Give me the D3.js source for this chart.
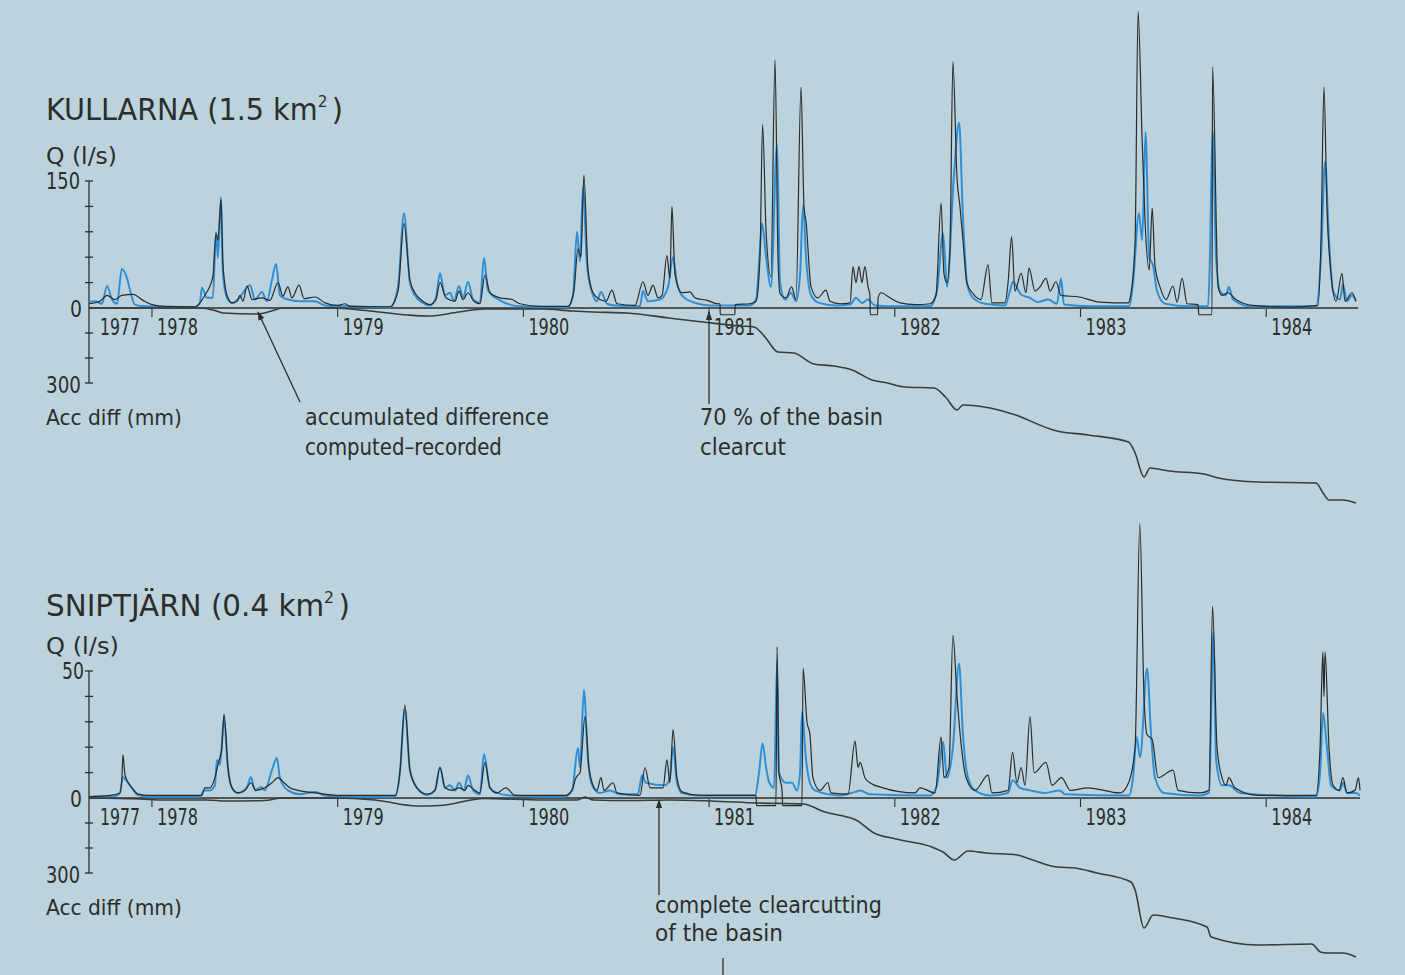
<!DOCTYPE html>
<html>
<head>
<meta charset="utf-8">
<script src="https://cdn.jsdelivr.net/npm/d3@7"></script>
<style>
  html, body { margin: 0; padding: 0; background: #bcd3dd; }
  svg { display: block; }
  text { font-family: "DejaVu Sans Condensed", "DejaVu Sans", sans-serif; fill: #2c2e2b; }
</style>
</head>
<body>
<svg id="chart" width="1405" height="975"></svg>
<script>
// Year labels along the time axis (1977 marks the partial first season)
const yearTicks = [1978, 1979, 1980, 1981, 1982, 1983, 1984];
const firstYearLabel = 1977;
const timeDomain = [1977.661, 1984.505];

// Q axis ticks (l/s) and accumulated-difference ticks (mm)
const kullarnaQTicks = [0, 30, 60, 90, 120, 150];
const sniptjarnQTicks = [0, 10, 20, 30, 40, 50];
const accDiffTicks = [0, 100, 200, 300];

// KULLARNA: computed runoff [decimal year, l/s]
const kullarnaComputed = [
  [1977.661,5],[1977.720,8],[1977.758,15],[1977.801,10],[1977.838,15],[1977.898,16],[1977.952,9],
  [1978.000,4],[1978.070,2],[1978.232,1.5],[1978.285,15],[1978.328,37],[1978.345,88],[1978.355,80],
  [1978.372,128],[1978.382,53],[1978.404,15],[1978.431,6],[1978.458,8],[1978.474,15],[1978.490,8],
  [1978.512,26],[1978.539,10],[1978.592,12],[1978.635,9],[1978.679,30],[1978.705,14],[1978.732,25],
  [1978.754,12],[1978.792,27],[1978.819,11],[1978.878,13],[1978.932,6],[1979.002,3],[1979.039,5],
  [1979.066,2],[1979.282,1.5],[1979.325,20],[1979.357,100],[1979.389,33],[1979.416,18],[1979.459,8],
  [1979.497,4],[1979.529,10],[1979.551,30],[1979.583,12],[1979.632,8],[1979.653,20],[1979.675,10],
  [1979.702,18],[1979.734,8],[1979.766,5],[1979.793,39],[1979.820,18],[1979.874,12],[1979.939,10],
  [1979.982,5],[1980.089,2],[1980.240,2],[1980.272,20],[1980.294,70],[1980.310,60],[1980.326,157],
  [1980.348,45],[1980.375,18],[1980.412,10],[1980.445,8],[1980.477,21],[1980.504,5],[1980.601,3],
  [1980.644,31],[1980.671,15],[1980.698,27],[1980.725,12],[1980.747,15],[1980.773,62],[1980.789,35],
  [1980.800,120],[1980.816,40],[1980.854,18],[1980.897,19],[1980.924,12],[1980.989,9],[1981.048,5],
  [1981.059,5],[1981.060,-8],[1981.139,-8],[1981.140,4],[1981.220,5],[1981.253,8],[1981.274,60],
  [1981.288,217],[1981.307,90],[1981.333,37],[1981.355,293],[1981.371,60],[1981.382,17],[1981.414,12],
  [1981.444,25],[1981.468,10],[1981.495,261],[1981.511,120],[1981.522,102],[1981.549,25],[1981.586,12],
  [1981.629,21],[1981.651,8],[1981.705,5],[1981.759,6],[1981.775,49],[1981.791,30],[1981.807,49],
  [1981.823,30],[1981.839,49],[1981.856,25],[1981.866,15],[1981.868,-8],[1981.907,-8],[1981.910,12],
  [1981.926,18],[1981.974,12],[1982.028,6],[1982.109,4],[1982.190,5],[1982.222,15],[1982.249,124],
  [1982.265,40],[1982.281,30],[1982.297,70],[1982.313,291],[1982.335,153],[1982.351,120],[1982.367,80],
  [1982.389,29],[1982.421,17],[1982.464,10],[1982.502,51],[1982.523,6],[1982.593,6],[1982.610,30],
  [1982.629,84],[1982.647,20],[1982.680,41],[1982.706,18],[1982.723,47],[1982.755,20],[1982.782,25],
  [1982.814,35],[1982.836,20],[1982.868,31],[1982.895,15],[1982.992,13],[1983.105,7],[1983.256,6],
  [1983.272,17],[1983.294,80],[1983.310,350],[1983.332,198],[1983.348,100],[1983.370,45],[1983.386,118],
  [1983.401,50],[1983.428,25],[1983.461,10],[1983.498,26],[1983.520,7],[1983.547,35],[1983.574,5],
  [1983.633,4],[1983.637,-8],[1983.708,-8],[1983.711,285],[1983.741,25],[1983.762,15],[1983.794,18],
  [1983.837,10],[1983.929,3],[1984.128,1],[1984.279,3],[1984.295,80],[1984.311,261],[1984.327,120],
  [1984.349,40],[1984.376,8],[1984.408,41],[1984.424,8],[1984.462,18],[1984.483,8]
];

// KULLARNA: recorded runoff [decimal year, l/s]
const kullarnaRecorded = [
  [1977.661,7],[1977.693,8],[1977.731,5],[1977.758,26],[1977.785,10],[1977.812,5],[1977.838,46],
  [1977.866,35],[1977.882,21],[1977.908,4],[1977.962,2],[1978.232,1],[1978.258,6],[1978.269,24],
  [1978.296,12],[1978.328,12],[1978.345,90],[1978.355,59],[1978.372,131],[1978.382,41],[1978.404,12],
  [1978.431,6],[1978.463,10],[1978.490,18],[1978.528,27],[1978.555,10],[1978.592,19],[1978.619,8],
  [1978.646,33],[1978.668,52],[1978.689,15],[1978.732,10],[1978.797,8],[1978.878,8],[1978.932,3],
  [1979.039,2],[1979.282,1],[1979.325,25],[1979.357,112],[1979.389,30],[1979.416,15],[1979.459,6],
  [1979.497,3],[1979.529,12],[1979.551,41],[1979.578,15],[1979.605,18],[1979.626,8],[1979.653,26],
  [1979.675,12],[1979.702,31],[1979.729,10],[1979.766,6],[1979.788,59],[1979.809,21],[1979.874,9],
  [1979.928,4],[1979.982,2],[1980.240,1],[1980.267,15],[1980.289,90],[1980.305,55],[1980.321,143],
  [1980.343,50],[1980.375,15],[1980.396,8],[1980.418,19],[1980.450,5],[1980.493,3],[1980.628,2],
  [1980.644,20],[1980.671,8],[1980.736,10],[1980.779,25],[1980.806,60],[1980.827,30],[1980.854,15],
  [1980.924,6],[1981.005,3],[1981.220,3],[1981.253,10],[1981.274,70],[1981.285,100],[1981.307,60],
  [1981.333,25],[1981.366,193],[1981.382,30],[1981.409,10],[1981.441,18],[1981.468,8],[1981.490,40],
  [1981.506,122],[1981.522,60],[1981.549,15],[1981.592,6],[1981.678,3],[1981.759,4],[1981.791,12],
  [1981.823,6],[1981.856,10],[1981.893,3],[1982.028,2],[1982.190,2],[1982.227,20],[1982.260,88],
  [1982.281,25],[1982.319,159],[1982.346,219],[1982.367,108],[1982.389,29],[1982.421,12],[1982.486,5],
  [1982.593,3],[1982.620,20],[1982.636,31],[1982.680,16],[1982.728,12],[1982.771,7],[1982.825,10],
  [1982.873,5],[1982.895,35],[1982.911,4],[1983.051,2],[1983.261,2],[1983.283,30],[1983.315,112],
  [1983.332,80],[1983.350,208],[1983.370,60],[1983.391,50],[1983.412,20],[1983.456,5],[1983.590,2],
  [1983.687,2],[1983.697,60],[1983.711,210],[1983.730,60],[1983.751,20],[1983.783,15],[1983.799,25],
  [1983.821,10],[1983.913,2],[1984.268,2],[1984.295,60],[1984.317,173],[1984.338,80],[1984.360,20],
  [1984.397,10],[1984.413,28],[1984.435,8],[1984.462,15],[1984.483,8]
];

// KULLARNA: accumulated difference computed-recorded [decimal year, mm]
const kullarnaAccDiff = [
  [1977.661,0],[1978.258,0],[1978.339,10],[1978.382,20],[1978.565,24],[1978.644,12],[1978.700,0],
  [1978.969,0],[1979.174,12],[1979.379,28],[1979.492,32],[1979.653,16],[1979.788,4],[1980.106,4],
  [1980.262,12],[1980.375,16],[1980.558,20],[1980.784,40],[1980.967,56],[1981.166,72],[1981.242,76],
  [1981.301,116],[1981.371,176],[1981.457,180],[1981.565,224],[1981.673,232],[1981.770,248],
  [1981.877,288],[1981.961,300],[1982.055,316],[1982.211,320],[1982.273,356],[1982.335,408],
  [1982.367,388],[1982.513,400],[1982.634,424],[1982.873,492],[1983.040,508],[1983.258,536],
  [1983.294,580],[1983.342,676],[1983.374,640],[1983.477,652],[1983.665,664],[1983.741,680],
  [1983.956,696],[1984.268,700],[1984.306,740],[1984.338,768],[1984.413,768],[1984.483,780]
];

// SNIPTJÄRN: computed runoff [decimal year, l/s]
const sniptjarnComputed = [
  [1977.661,0.5],[1977.774,1],[1977.828,2],[1977.838,8],[1977.844,17],[1977.855,9],[1977.892,4],
  [1977.925,1.5],[1977.989,1],[1978.232,1],[1978.269,1],[1978.285,4],[1978.312,4],[1978.339,8],
  [1978.355,13],[1978.366,16],[1978.377,20],[1978.388,33],[1978.409,12],[1978.431,4],[1978.463,2],
  [1978.501,3],[1978.533,6],[1978.560,3],[1978.608,4],[1978.646,6],[1978.679,8],[1978.711,6],
  [1978.743,4],[1978.786,3],[1978.878,2],[1979.012,1],[1979.309,1],[1979.335,10],[1979.362,36.6],
  [1979.389,11],[1979.427,4],[1979.481,1.5],[1979.524,3],[1979.551,12],[1979.578,4],[1979.616,3],
  [1979.653,4],[1979.686,3],[1979.702,5],[1979.739,3],[1979.766,2],[1979.793,14],[1979.820,4],
  [1979.858,2],[1979.906,4],[1979.955,1],[1980.224,1],[1980.262,3],[1980.283,8],[1980.305,10],
  [1980.332,32],[1980.353,12],[1980.370,6],[1980.396,3],[1980.418,8],[1980.434,3],[1980.483,6],
  [1980.504,2],[1980.628,1],[1980.655,12],[1980.682,4],[1980.752,4],[1980.773,15],[1980.789,6],
  [1980.806,27],[1980.827,8],[1980.854,2.4],[1980.951,1],[1981.253,1],[1981.255,-3],[1981.360,-3],
  [1981.366,59.5],[1981.376,10],[1981.393,3],[1981.396,-3],[1981.500,-3],[1981.506,51],[1981.527,30],
  [1981.543,25],[1981.559,8],[1981.597,3],[1981.640,6],[1981.656,2],[1981.748,1.5],[1981.786,22.4],
  [1981.802,12],[1981.813,14],[1981.839,8],[1981.866,6],[1981.936,4],[1982.109,2],[1982.136,4],
  [1982.217,2],[1982.249,24],[1982.265,8],[1982.292,12],[1982.313,64],[1982.335,40],[1982.356,22],
  [1982.384,8],[1982.432,3],[1982.502,9],[1982.523,2],[1982.610,3],[1982.634,18],[1982.658,6],
  [1982.680,12],[1982.701,5],[1982.728,32],[1982.750,10],[1982.814,14],[1982.847,5],[1982.898,8],
  [1982.945,3],[1983.040,4],[1983.213,2],[1983.259,6],[1983.294,20],[1983.319,108],[1983.342,40],
  [1983.358,25],[1983.386,23],[1983.418,8],[1983.498,11],[1983.525,3],[1983.644,2],[1983.692,3],
  [1983.711,75.6],[1983.735,20],[1983.762,8],[1983.783,5],[1983.799,8],[1983.831,4],[1983.956,1],
  [1984.268,1],[1984.290,20],[1984.305,57.5],[1984.311,40],[1984.317,57.5],[1984.338,20],[1984.360,5],
  [1984.392,3],[1984.413,8],[1984.435,2],[1984.478,3],[1984.497,8],[1984.505,3]
];

// SNIPTJÄRN: recorded runoff [decimal year, l/s]
const sniptjarnRecorded = [
  [1977.661,0.5],[1977.801,0.7],[1977.828,2],[1977.844,8.3],[1977.860,7],[1977.892,4],[1977.925,1.2],
  [1977.989,0.5],[1978.258,0.5],[1978.280,3],[1978.312,3],[1978.339,5],[1978.350,15],[1978.366,13],
  [1978.388,31.5],[1978.409,12],[1978.431,4],[1978.463,2],[1978.512,4.3],[1978.533,8.3],[1978.555,3],
  [1978.587,4.3],[1978.608,3],[1978.646,11],[1978.673,15.7],[1978.689,8],[1978.732,3],[1978.797,1.5],
  [1978.878,2.4],[1978.932,1],[1979.012,0.5],[1979.309,0.5],[1979.335,10],[1979.362,35],[1979.389,11],
  [1979.427,4],[1979.481,1.2],[1979.524,3],[1979.551,12.2],[1979.578,4],[1979.605,5],[1979.632,3],
  [1979.653,6],[1979.680,3],[1979.702,9],[1979.729,3],[1979.766,1.5],[1979.788,17.3],[1979.820,4],
  [1979.858,2],[1979.928,1],[1980.224,0.5],[1980.262,3],[1980.294,19.7],[1980.305,12],[1980.326,42.5],
  [1980.348,15],[1980.370,5],[1980.412,2],[1980.466,3],[1980.520,1.5],[1980.617,1.5],[1980.639,9],
  [1980.660,6],[1980.763,5],[1980.789,8],[1980.806,20],[1980.827,6],[1980.854,2],[1980.951,1],
  [1981.247,1],[1981.269,10],[1981.288,21.6],[1981.307,12],[1981.323,6.3],[1981.350,4],[1981.366,54],
  [1981.376,10],[1981.414,6],[1981.447,6],[1981.473,3],[1981.490,10],[1981.500,34],[1981.522,15],
  [1981.543,6],[1981.570,3],[1981.705,1],[1981.786,2.4],[1981.813,3],[1981.866,1.5],[1982.190,1],
  [1982.227,5],[1982.260,22],[1982.281,8],[1982.313,20],[1982.346,53],[1982.367,25],[1982.394,8],
  [1982.432,3],[1982.513,1],[1982.610,2],[1982.634,7],[1982.674,4],[1982.728,3],[1982.809,2],
  [1982.889,3],[1982.916,1.5],[1983.261,1],[1983.283,8],[1983.302,24],[1983.321,16],[1983.358,51],
  [1983.380,25],[1983.401,8],[1983.450,2],[1983.644,1],[1983.692,2],[1983.716,65],[1983.730,15],
  [1983.762,5],[1983.799,5],[1983.859,2],[1984.268,0.5],[1984.290,10],[1984.306,33.5],[1984.327,20],
  [1984.349,5],[1984.397,3],[1984.413,6],[1984.435,2],[1984.483,2],[1984.505,1]
];

// SNIPTJÄRN: accumulated difference computed-recorded [decimal year, mm]
const sniptjarnAccDiff = [
  [1977.661,0],[1977.935,4],[1978.065,8],[1978.291,8],[1978.404,12],[1978.608,10],[1978.700,0],
  [1978.985,0],[1979.201,8],[1979.427,32],[1979.551,30],[1979.788,2],[1980.106,8],[1980.289,8],
  [1980.332,-4],[1980.375,8],[1980.574,10],[1980.784,8],[1981.010,12],[1981.263,20],[1981.506,24],
  [1981.624,56],[1981.743,76],[1981.791,88],[1981.888,140],[1982.006,164],[1982.200,196],
  [1982.260,216],[1982.321,248],[1982.394,212],[1982.491,220],[1982.658,228],[1982.728,244],
  [1982.873,276],[1982.970,280],[1983.089,300],[1983.272,336],[1983.294,368],[1983.342,520],
  [1983.391,468],[1983.498,480],[1983.681,516],[1983.703,556],[1983.956,588],[1984.245,584],
  [1984.292,616],[1984.327,620],[1984.413,620],[1984.483,636]
];

const svg = d3.select("#chart");
const ink = "#2c2e2b";
const blue = "#2f8fd6";

svg.append("rect").attr("width", 1405).attr("height", 975).attr("fill", "#bcd3dd");

const defs = svg.append("defs");
defs.append("marker")
  .attr("id", "arrowhead")
  .attr("viewBox", "0 0 10 10")
  .attr("refX", 9).attr("refY", 5)
  .attr("markerWidth", 9).attr("markerHeight", 9)
  .attr("markerUnits", "userSpaceOnUse")
  .attr("orient", "auto")
  .append("path")
  .attr("d", "M0,1.5 L10,5 L0,8.5 Z")
  .attr("fill", ink);

// Draws a text whose left edge sits at x0 and which is squeezed horizontally
// to the given width, giving the narrow lettering of the drawing.
function label(parent, x0, y, size, content, width) {
  const t = parent.append("text").attr("x", 0).attr("y", y).attr("font-size", size);
  if (typeof content === "function") content(t); else t.text(content);
  const bb = t.node().getBBox();
  const s = width / bb.width;
  t.attr("transform", `translate(${x0},0) scale(${s},1) translate(${-bb.x},0)`);
  return t;
}

const x = d3.scaleLinear().domain(timeDomain).range([89, 1360]);

const panels = [
  {
    name: "KULLARNA", area: "1.5", titleY: 120, titleW: 297,
    qMax: 150, qTicks: kullarnaQTicks, zeroY: 308, topY: 181,
    qMaxLabel: [46, 34], qLabelW: 71, zeroLabelX: 70, accLabel: [46, 35],
    computed: kullarnaComputed, recorded: kullarnaRecorded, accDiff: kullarnaAccDiff,
    axisEnd: 1358
  },
  {
    name: "SNIPTJÄRN", area: "0.4", titleY: 616, titleW: 304,
    qMax: 50, qTicks: sniptjarnQTicks, zeroY: 798, topY: 671,
    qMaxLabel: [62, 22], qLabelW: 73, zeroLabelX: 70, accLabel: [46, 34],
    computed: sniptjarnComputed, recorded: sniptjarnRecorded, accDiff: sniptjarnAccDiff,
    axisEnd: 1360
  }
];

panels.forEach(p => {
  const g = svg.append("g");
  const q = d3.scaleLinear().domain([0, p.qMax]).range([p.zeroY, p.topY]);
  const acc = d3.scaleLinear().domain([0, 300]).range([p.zeroY, p.zeroY + 75]);
  const axisX = x(timeDomain[0]);

  // Title with superscript km²
  label(g, 46, p.titleY, 30, t => {
    t.append("tspan").text(`${p.name} (${p.area} km`);
    t.append("tspan").attr("font-size", 16).attr("dy", -13).text("2");
    t.append("tspan").attr("dy", 13).attr("dx", 4).text(")");
  }, p.titleW);

  label(g, 46, p.zeroY - 144, 23, "Q (l/s)", p.qLabelW);

  // Vertical axis: runoff above zero, accumulated difference below
  g.append("line")
    .attr("x1", axisX).attr("x2", axisX)
    .attr("y1", q(p.qMax)).attr("y2", acc(300))
    .attr("stroke", ink).attr("stroke-width", 1.3);
  g.selectAll(".qtick").data(p.qTicks.filter(v => v > 0)).join("line")
    .attr("x1", axisX - 4).attr("x2", axisX + 4)
    .attr("y1", d => q(d)).attr("y2", d => q(d))
    .attr("stroke", ink).attr("stroke-width", 1.3);
  g.selectAll(".atick").data(accDiffTicks.filter(v => v > 0)).join("line")
    .attr("x1", axisX - 4).attr("x2", axisX + 4)
    .attr("y1", d => acc(d)).attr("y2", d => acc(d))
    .attr("stroke", ink).attr("stroke-width", 1.3);

  label(g, p.qMaxLabel[0], q(p.qMax) + 8, 23, String(p.qMax), p.qMaxLabel[1]);
  label(g, p.zeroLabelX, p.zeroY + 9, 23, "0", 12);
  label(g, p.accLabel[0], acc(300) + 10, 23, "300", p.accLabel[1]);
  label(g, 46, acc(300) + 42, 22, "Acc diff (mm)", 136);

  // Time axis
  g.append("line")
    .attr("x1", axisX).attr("x2", p.axisEnd)
    .attr("y1", p.zeroY).attr("y2", p.zeroY)
    .attr("stroke", ink).attr("stroke-width", 1.3);
  g.selectAll(".ytick").data(yearTicks).join("line")
    .attr("x1", d => x(d)).attr("x2", d => x(d))
    .attr("y1", p.zeroY + 1).attr("y2", p.zeroY + 9)
    .attr("stroke", ink).attr("stroke-width", 1.1);
  yearTicks.forEach(yr => label(g, x(yr) + 5, p.zeroY + 27, 23, String(yr), 41));
  label(g, axisX + 11, p.zeroY + 27, 23, String(firstYearLabel), 40);

  // Series
  const qLine = d3.line().x(d => x(d[0])).y(d => q(d[1])).curve(d3.curveMonotoneX);
  const accLine = d3.line().x(d => x(d[0])).y(d => acc(d[1])).curve(d3.curveMonotoneX);

  g.append("path").datum(p.recorded).attr("d", qLine)
    .attr("fill", "none").attr("stroke", blue).attr("stroke-width", 2)
    .attr("stroke-linejoin", "round");
  g.append("path").datum(p.computed).attr("d", qLine)
    .attr("fill", "none").attr("stroke", "#2a2b2a").attr("stroke-width", 1.2)
    .attr("stroke-linejoin", "round");
  g.append("path").datum(p.accDiff).attr("d", accLine)
    .attr("fill", "none").attr("stroke", "#3a3c3a").attr("stroke-width", 1.6)
    .attr("stroke-linejoin", "round");
});

// Annotations
function arrow(x1, y1, x2, y2) {
  svg.append("line")
    .attr("x1", x1).attr("y1", y1).attr("x2", x2).attr("y2", y2)
    .attr("stroke", ink).attr("stroke-width", 1.3)
    .attr("marker-end", "url(#arrowhead)");
}

label(svg, 305, 425, 23, "accumulated difference", 244);
label(svg, 305, 455, 23, "computed\u2013recorded", 197);
arrow(300, 402, 258, 312);
label(svg, 700, 425, 23, "70 % of the basin", 183);
label(svg, 700, 455, 23, "clearcut", 86);
arrow(709, 404, 709, 312);
label(svg, 655, 913, 23, "complete clearcutting", 227);
label(svg, 655, 941, 23, "of the basin", 128);
arrow(659, 895, 659, 800);

svg.append("line").attr("x1", 723).attr("x2", 723).attr("y1", 958).attr("y2", 975)
  .attr("stroke", ink).attr("stroke-width", 1.3);
</script>
</body>
</html>
